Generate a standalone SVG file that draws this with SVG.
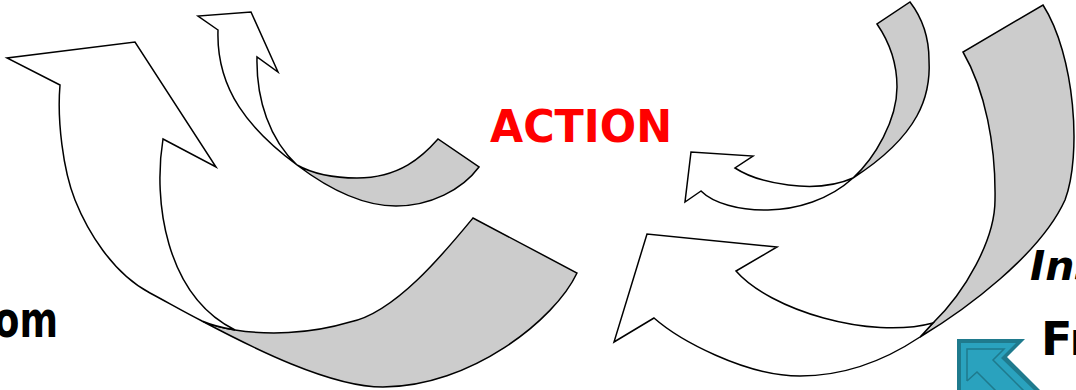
<svg xmlns="http://www.w3.org/2000/svg" width="1076" height="390" viewBox="0 0 1076 390">
<style>
.w{fill:#ffffff;stroke:#000;stroke-width:1.5;stroke-linejoin:miter}
.g{fill:#cccccc;stroke:#000;stroke-width:1.5;stroke-linejoin:miter}
.t{font-family:"DejaVu Sans","Verdana",sans-serif;font-weight:bold}
</style>
<rect width="1076" height="390" fill="#ffffff"/>
<g id="arrow-left-big">
<path class="g" d="M202,321 C210.4,324.6 221.7,327.75 235,329.9 C266,334.95 308,334.6 350,322 C395,313 445,252 473,218 L577,273 C555,320 470,387 383,387 C330,387 252,347.5 202,321 Z"/>
<path class="w" d="M60,85 L7,58 L135,42 L216,167 L163,139 C153,200 165,295 235,330 C221.7,327.75 210.4,324.6 202,321 C184,312 167,302 150,293 C112,273 87,230 75,200 C63,170 57,120 60,85 Z"/>
</g>
<g id="arrow-left-small">
<path class="g" d="M297,165 C315,175 335,178 357,178 C400,178 423,156 438,139 L479,167 C462,190 430,206 396,206 C365,206 330,190 297,165 Z"/>
<path class="w" d="M218,30 L198,16 L251,12 L278,72 L257,57 C256,100 270,140 297,165 C250,130 216,90 218,30 Z"/>
</g>
<g id="arrow-right-small">
<path class="g" d="M853,178 C875,158 897,120 897,87 C897,60 888,40 877,24 L910,2 C920,15 929,35 929,60 C931,95 920,135 853,178 Z"/>
<path class="w" d="M701,191 L685,202 L691,152 L753,156 L735,168 C758,183 815,195 853,178 C805,222 725,215 701,191 Z"/>
</g>
<g id="arrow-right-big">
<path class="g" d="M920,337 C925,332 929,327 933,323 C965,292 995,240 995,200 C996,145 985,90 963,52 L1043,5 C1075,55 1082,155 1065,200 C1040,255 965,310 920,337 Z"/>
<path class="w" d="M654,318 L614,342 L647,234 L777,247 L736,271 C770,310 870,340 933,323 C929,327 925,332 920,337 C890,357 850,376 800,376 C745,376 679,340 654,318 Z"/>
</g>
<g id="labels">
<text class="t" x="490" y="142" font-size="45" fill="#ff0000" textLength="182" lengthAdjust="spacingAndGlyphs">ACTION</text>
<text class="t" x="-6" y="337" font-size="50" fill="#000" textLength="64" lengthAdjust="spacingAndGlyphs">om</text>
<text class="t" x="1041" y="355" font-size="46" fill="#000">Fr</text>
<text class="t" x="1030" y="280" font-size="41" font-style="italic" fill="#000">Ins</text>
</g>
<g id="icon">
<path d="M957,339 L1025,339 L1007,357 L1045,395 L957,395 Z" fill="#1f7a8d"/>
<path d="M961,343 L1016,343 L1001,358 L1039,395 L961,395 Z" fill="#2aa2be"/>
<path d="M967,381 L967,349 L1004,349 L993,360 L1028,395 M967,381 L977,372 L1000,395" fill="none" stroke="#1f7a8d" stroke-width="1.5"/>
</g>
</svg>
